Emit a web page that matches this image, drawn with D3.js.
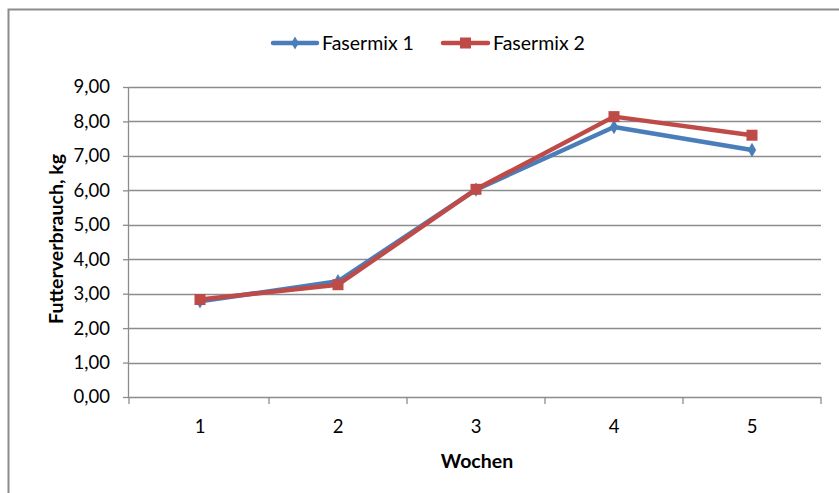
<!DOCTYPE html>
<html><head><meta charset="utf-8">
<script src="https://cdn.jsdelivr.net/npm/d3@7"></script>
<style>body{margin:0;background:#fff;} svg{display:block;font-family:Lato, "Open Sans", sans-serif;}</style>
</head><body>
<svg id="c" width="839" height="493"></svg>
<script>
const weeks = ["1","2","3","4","5"];
const fasermix1 = [2.78, 3.36, 6.02, 7.84, 7.17];
const fasermix2 = [2.83, 3.26, 6.03, 8.14, 7.60];
const yTicks = [0,1,2,3,4,5,6,7,8,9];
const seriesNames = ["Fasermix 1", "Fasermix 2"];
const colors = ["#4a7ebb", "#be4b48"];

const svg = d3.select("#c");
svg.append("rect").attr("x",8.5).attr("y",9.5).attr("width",840).attr("height",490)
  .attr("fill","#fff").attr("stroke","#8c8c8c").attr("stroke-width",2);

const L=129, R=821, T=87, B=397;
const x = d3.scaleBand().domain(weeks).range([L+2,R]);
const y = d3.scaleLinear().domain([0,9]).range([B,T]);
const fmt = d => d3.format(".2f")(d).replace(".",",");
const tickFont = 18.5;

// gridlines
svg.append("g").selectAll("line").data(yTicks.filter(d=>d>0)).join("line")
  .attr("x1",L).attr("x2",R).attr("y1",d=>Math.round(y(d))+0.5).attr("y2",d=>Math.round(y(d))+0.5)
  .attr("stroke","#8c8c8c").attr("stroke-width",1.3);

// y axis
const ya = svg.append("g").attr("transform",`translate(${L},0)`)
  .call(d3.axisLeft(y).tickValues(yTicks).tickFormat(fmt).tickSize(6).tickPadding(13));
ya.select(".domain").attr("stroke","#8c8c8c").attr("stroke-width",1.3).attr("d",`M-0.5,${T}V${B}`);
ya.selectAll(".tick line").attr("stroke","#8c8c8c").attr("stroke-width",1.3).attr("x1",-6).attr("x2",0);
ya.selectAll(".tick text").attr("font-size",tickFont).attr("fill","#000").attr("font-family","Lato, sans-serif");

// x axis
const xa = svg.append("g").attr("transform",`translate(0,${B})`)
  .call(d3.axisBottom(x).tickSize(0).tickPadding(23));
xa.select(".domain").attr("stroke","#8c8c8c").attr("stroke-width",1.3).attr("d",`M${L},0.5H${R}`);
xa.selectAll(".tick text").attr("font-size",tickFont).attr("fill","#000").attr("font-family","Lato, sans-serif");
const bounds = weeks.map(w=>x(w)).concat([x(weeks[weeks.length-1])+x.bandwidth()]);
bounds[0] = L;
svg.append("g").selectAll("line").data(bounds).join("line")
  .attr("x1",d=>d).attr("x2",d=>d).attr("y1",B).attr("y2",B+7)
  .attr("stroke","#8c8c8c").attr("stroke-width",1.3);

// axis titles
svg.append("text").attr("x",477).attr("y",468).attr("text-anchor","middle")
  .attr("font-weight","bold").attr("font-size",19.5).text("Wochen");
svg.append("text").attr("transform",`translate(63,239) rotate(-90)`).attr("text-anchor","middle")
  .attr("font-weight","bold").attr("font-size",19.5).text("Futterverbrauch, kg");

const cx = w => x(w)+x.bandwidth()/2;
const line = d3.line().x(d=>cx(d.w)).y(d=>y(d.v));
const data = [fasermix1, fasermix2].map(arr => weeks.map((w,i)=>({w, v:arr[i]})));

data.forEach((s,i)=>{
  svg.append("path").datum(s).attr("d",line).attr("fill","none")
    .attr("stroke",colors[i]).attr("stroke-width",4.5).attr("stroke-linejoin","round").attr("stroke-linecap","round");
});
// markers
const g1 = svg.append("g");
g1.selectAll("path").data(data[0]).join("path")
  .attr("d", d3.symbol(d3.symbolDiamond, 60))
  .attr("transform", d=>`translate(${cx(d.w)},${y(d.v)})`).attr("fill",colors[0]);
const g2 = svg.append("g");
g2.selectAll("rect").data(data[1]).join("rect")
  .attr("x",d=>cx(d.w)-5.5).attr("y",d=>y(d.v)-5.5).attr("width",11).attr("height",11).attr("fill",colors[1]);

// legend
const leg = [{x0:273, x1:317, tx:322}, {x0:443, x1:488, tx:493}];
const ly = 43;
leg.forEach((l,i)=>{
  svg.append("line").attr("x1",l.x0).attr("x2",l.x1).attr("y1",ly).attr("y2",ly)
    .attr("stroke",colors[i]).attr("stroke-width",4.5).attr("stroke-linecap","round");
  const m = (l.x0+l.x1)/2;
  if(i===0) svg.append("path").attr("d",d3.symbol(d3.symbolDiamond,50)).attr("transform",`translate(${m},${ly})`).attr("fill",colors[0]);
  else svg.append("rect").attr("x",m-5.5).attr("y",ly-5.5).attr("width",11).attr("height",11).attr("fill",colors[1]);
  svg.append("text").attr("x",l.tx).attr("y",ly+6.5).attr("font-size",19.5).text(seriesNames[i]);
});
</script>
</body></html>
